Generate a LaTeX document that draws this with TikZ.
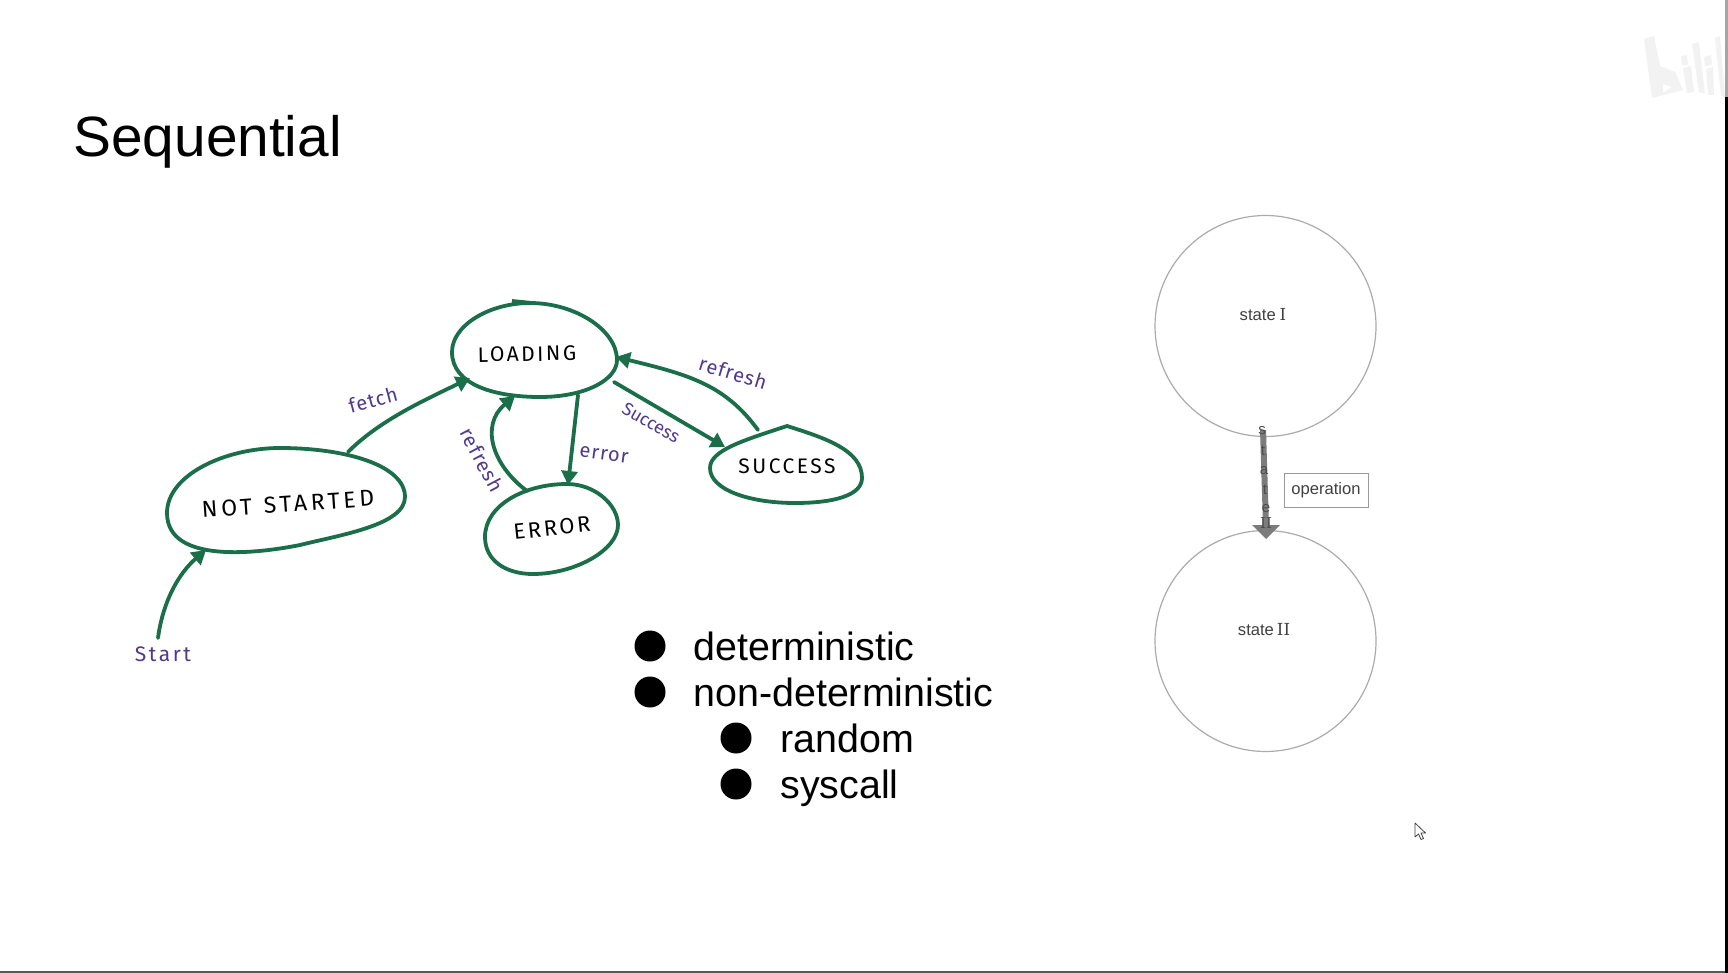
\documentclass[tikz,border=0pt]{standalone}
\usepackage{fontspec}
\setmainfont{Liberation Sans}
\newfontfamily\numfont{DejaVu Serif}
\newfontfamily\handfont{Fira Sans}
\usetikzlibrary{arrows.meta}
\definecolor{blobgreen}{HTML}{1B6E4A}
\definecolor{handpurple}{HTML}{4F3A8C}
\definecolor{ringgray}{HTML}{ABABAB}
\definecolor{shaftgray}{HTML}{7C7C7C}
\definecolor{wmgray}{HTML}{F2F2F2}
\tikzset{
  blob/.style={draw=blobgreen,line width=1.9pt,line join=round},
  conn/.style={draw=blobgreen,line width=1.9pt,line cap=round,-{Triangle[length=7pt,width=8pt]}},
  hand/.style={font=\handfont\fontsize{10}{12}\selectfont\addfontfeature{LetterSpace=5},text=handpurple,inner sep=0pt},
  caps/.style={font=\handfont\fontsize{10.5}{12}\selectfont\addfontfeature{LetterSpace=12},text=black,inner sep=0pt},
  ring/.style={circle,draw=ringgray,line width=0.6pt,minimum size=110.5pt,inner sep=0pt},
  body/.style={font=\fontsize{19.7}{24}\selectfont,text=black,inner sep=0pt,anchor=base west},
  bulletdot/.style={circle,fill=black,minimum size=15.5pt,inner sep=0pt},
  small/.style={font=\fontsize{8.3}{10}\selectfont,text=black!75,inner sep=0pt},
  vletter/.style={font=\fontsize{7.5}{8}\selectfont,text=black!70,inner sep=0pt},
}
\begin{document}
\begin{tikzpicture}[x=0.5pt,y=-0.5pt]
\useasboundingbox[fill=white] (0,0) rectangle (1728,973);
% frame edges
\fill[black!35] (1725,0) rectangle (1728,97);
\fill[black] (1725,97) rectangle (1728,973);
\fill[black!65] (0,971) rectangle (1725,973);
% watermark
\fill[wmgray,even odd rule] (1644,39) -- (1654,36) -- (1660,66) -- (1675,72) -- (1683,90) -- (1652,98) -- cycle (1663,84) -- (1672,87) -- (1663,93) -- cycle;
\fill[wmgray] (1681,56) -- (1687,55) -- (1688,65) -- (1682,65) -- cycle;
\fill[wmgray] (1683,68) -- (1691,66) -- (1694,92) -- (1687,93) -- cycle;
\fill[wmgray] (1692,44) -- (1699,42) -- (1705,94) -- (1699,92) -- cycle;
\fill[wmgray] (1704,57) -- (1711,55) -- (1712,65) -- (1705,66) -- cycle;
\fill[wmgray] (1706,69) -- (1713,67) -- (1714,95) -- (1708,95) -- cycle;
\fill[wmgray] (1715,38) -- (1720,36) -- (1725,97) -- (1721,96) -- cycle;
% title
\node[font=\fontsize{28.4}{34}\selectfont,inner sep=0pt,anchor=base west] (title) at (73,157) {Sequential};
% blobs
\draw[blob] (167,513) .. controls (167,475) and (225,448) .. (280,448) .. controls (345,448) and (405,465) .. (405,497) .. controls (405,525) and (340,535) .. (300,545) .. controls (260,553) and (167,565) .. (167,513) -- cycle;
\draw[blob] (452,352) .. controls (452,325) and (490,303) .. (530,303) .. controls (575,303) and (617,330) .. (617,360) .. controls (617,380) and (585,397) .. (540,397) .. controls (495,397) and (452,385) .. (452,352) -- cycle;
\draw[blob] (512,301) -- (532,303);
\draw[blob] (485,537) .. controls (485,505) and (525,484) .. (567,484) .. controls (595,484) and (618,505) .. (618,525) .. controls (618,550) and (575,574) .. (533,574) .. controls (505,574) and (485,560) .. (485,537) -- cycle;
\draw[blob] (710,468) .. controls (710,450) and (745,440) .. (787,426) .. controls (825,438) and (862,450) .. (862,478) .. controls (862,495) and (835,503) .. (795,503) .. controls (750,503) and (710,490) .. (710,468) -- cycle;
% named ends
\coordinate (startend) at (158,638);
\coordinate (nsin) at (206,550);
\coordinate (nsout) at (348,452);
\coordinate (loadl) at (470,378);
\coordinate (loadb) at (515,396);
\coordinate (errtopl) at (527,491);
\coordinate (loaderr) at (578,395);
\coordinate (errtop) at (568,485);
\coordinate (loadr) at (614,382);
\coordinate (succin) at (725,447);
\coordinate (succout) at (758,430);
\coordinate (loadrin) at (616,357);
% connectors
\draw[conn] (startend) .. controls (163,600) and (180,572) .. (nsin);
\draw[conn] (nsout) .. controls (380,420) and (425,400) .. (loadl);
\draw[conn] (errtopl) .. controls (492,465) and (480,425) .. (loadb);
\draw[conn] (loaderr) -- (errtop);
\draw[conn] (loadr) -- (succin);
\draw[conn] (succout) .. controls (725,385) and (690,375) .. (loadrin);
% state labels
\node[caps,rotate=4,font=\handfont\fontsize{11.5}{12}\selectfont\addfontfeature{LetterSpace=16}] (lnot) at (288,504) {NOT\hspace{6pt}STARTED};
\node[caps,rotate=1] (lload) at (527,354) {LOADING};
\node[caps,rotate=6,font=\handfont\fontsize{11}{12}\selectfont\addfontfeature{LetterSpace=12}] (lerr) at (552,528) {ERROR};
\node[caps] (lsucc) at (787,466) {SUCCESS};
% edge labels
\node[hand,font=\handfont\fontsize{10.5}{12}\selectfont\addfontfeature{LetterSpace=12}] (lstart) at (163,654) {Start};
\node[hand,rotate=15] (lfetch) at (373,400) {fetch};
\node[hand,rotate=-62] (lref1) at (482,460) {refresh};
\node[hand,rotate=-8] (lerror) at (604,455) {error};
\node[hand,rotate=-30,font=\handfont\fontsize{9}{11}\selectfont] (lsuc) at (651,423) {Success};
\node[hand,rotate=-17] (lref2) at (733,373) {refresh};
% bullet list
\node[bulletdot] (b1) at (650,646) {};
\node[bulletdot] (b2) at (650,692) {};
\node[bulletdot] (b3) at (736,738) {};
\node[bulletdot] (b4) at (736,784) {};
\node[body] (t1) at (693,660) {deterministic};
\node[body] (t2) at (693,706) {non-deterministic};
\node[body] (t3) at (780,752) {random};
\node[body] (t4) at (780,798) {syscall};
% state circles
\node[ring] (s1) at (1265.5,326) {};
\node[ring] (s2) at (1265.5,641) {};
\node[small] (s1l) at (1263,315) {state\hspace{2pt}{\numfont I}};
\node[small] (s2l) at (1264,630) {state\hspace{1.5pt}{\numfont II}};
% big arrow
\coordinate (ab) at (1263,430);
\coordinate (ae) at (1266,526);
\draw[draw=shaftgray,line width=3pt] (ab) -- (ae);
\fill[shaftgray] (1252,525) -- (1280,525) -- (1266,539) -- cycle;
\node[vletter] (v1) at (1262,431) {s};
\node[vletter] (v2) at (1263,451) {t};
\node[vletter] (v3) at (1264,471) {a};
\node[vletter] (v4) at (1265,490) {t};
\node[vletter] (v5) at (1266,509) {e};
\node[vletter,font=\numfont\fontsize{7.5}{8}\selectfont] (v6) at (1266,523) {II};
\node[draw=black!40,line width=0.45pt,minimum width=42pt,minimum height=17pt,inner sep=0pt,font=\fontsize{8.3}{10}\selectfont,text=black!75] (op) at (1326,490) {operation};
% cursor
\filldraw[fill=white,draw=black!75,line width=0.4pt,line join=round] (1415,823) -- (1415,837) -- (1418.5,834) -- (1421,839.5) -- (1423.5,838.5) -- (1421,833) -- (1425.5,833) -- cycle;
\end{tikzpicture}
\end{document}
